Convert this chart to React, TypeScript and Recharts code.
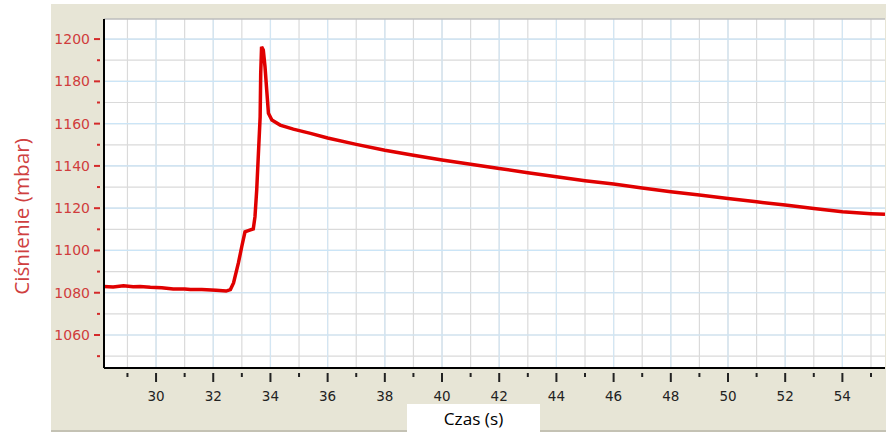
import { CartesianGrid, Line, LineChart, ReferenceLine, XAxis, YAxis } from 'recharts';

// czas (s) i ciśnienie (mbar)
const times = [
  28.18, 28.5, 28.86, 29.2, 29.44, 29.8, 30.2, 30.6, 31.0, 31.2, 31.6, 32.1, 32.45, 32.6, 32.71,
  32.88, 33.0, 33.11, 33.25, 33.4, 33.46, 33.52, 33.58, 33.64, 33.66, 33.69, 33.75, 33.81, 33.87,
  33.93, 34.05, 34.34, 34.8, 35.4, 36, 37, 38, 39, 40, 41, 42, 43, 44, 45, 46, 47, 48, 49, 50, 51,
  52, 53, 54, 55, 55.49,
];
const pressures = [
  1083, 1082.7, 1083.3, 1082.8, 1083, 1082.6, 1082.4, 1081.8, 1081.8, 1081.5, 1081.5, 1081.2,
  1080.8, 1081.5, 1084.6, 1094.1, 1102, 1108.8, 1109.5, 1110.2, 1116, 1128.6, 1146, 1163.2, 1183.8,
  1196.4, 1194.8, 1186.9, 1175.9, 1164.9, 1161.7, 1159.3, 1157.4, 1155.4, 1153.2, 1150.2, 1147.4,
  1145, 1142.8, 1140.8, 1138.8, 1136.8, 1134.9, 1133, 1131.4, 1129.6, 1127.8, 1126.2, 1124.6,
  1123, 1121.5, 1119.9, 1118.3, 1117.4, 1117.1,
];

const xTicks = [29, 30, 31, 32, 33, 34, 35, 36, 37, 38, 39, 40, 41, 42, 43, 44, 45, 46, 47, 48, 49, 50, 51, 52, 53, 54, 55];
const xMajor = [30, 32, 34, 36, 38, 40, 42, 44, 46, 48, 50, 52, 54];
const yTicks = [1050, 1060, 1070, 1080, 1090, 1100, 1110, 1120, 1130, 1140, 1150, 1160, 1170, 1180, 1190, 1200];
const yMajor = [1060, 1080, 1100, 1120, 1140, 1160, 1180, 1200];

const X_DOMAIN: [number, number] = [28.18, 55.49];
const Y_DOMAIN: [number, number] = [1044.4, 1209.5];

const data = times.map((t, i) => ({ t, p: pressures[i] }));

const tickRed = '#d03c3c';

function YTick(props: any) {
  const { x, y, payload } = props;
  const major = payload.value % 20 === 0;
  return (
    <g>
      <line x1={x - (major ? 10 : 7)} x2={x - 4} y1={y} y2={y} stroke="#d42a2a" strokeWidth={2} />
      {major && (
        <text
          x={x - 14}
          y={y}
          textAnchor="end"
          dominantBaseline="central"
          fill={tickRed}
          fontSize={14}
          fontFamily="DejaVu Sans, sans-serif"
        >
          {payload.value}
        </text>
      )}
    </g>
  );
}

function XTick(props: any) {
  const { x, y, payload } = props;
  const major = payload.value % 2 === 0;
  return (
    <g>
      <line x1={x} x2={x} y1={y + 5} y2={y + (major ? 14 : 9)} stroke="#222" strokeWidth={2} />
      {major && (
        <text
          x={x}
          y={y + 28}
          textAnchor="middle"
          dominantBaseline="central"
          fill="#222"
          fontSize={13.5}
          fontFamily="DejaVu Sans, sans-serif"
        >
          {payload.value}
        </text>
      )}
    </g>
  );
}

function YLabel(props: any) {
  const vb = props.viewBox;
  const cx = vb.x + 29;
  const cy = vb.y + vb.height / 2 + 23;
  return (
    <text
      x={cx}
      y={cy}
      transform={`rotate(-90 ${cx} ${cy})`}
      textAnchor="middle"
      fill="#cf4040"
      fontSize={20.7}
      fontFamily="Open Sans, sans-serif"
    >
      Ciśnienie (mbar)
    </text>
  );
}

export default function App() {
  return (
    <div style={{ position: 'absolute', left: 0, top: 0, width: 886, height: 434, background: '#fff' }}>
      <div
        style={{
          position: 'absolute',
          left: 51,
          top: 4,
          width: 835,
          height: 426,
          background: '#e7e5d6',
          borderBottom: '2px solid #c4c2b4',
        }}
      />
      <div style={{ position: 'absolute', left: 0, top: 0 }}>
        <LineChart width={886} height={434} data={data} margin={{ top: 19, right: 1, bottom: 0, left: 0 }}>
          <CartesianGrid
            fill="#ffffff"
            stroke="#dadada"
            strokeWidth={1.2}
            horizontalValues={yTicks}
            verticalValues={xTicks}
          />
          <CartesianGrid stroke="#d3e6f3" strokeWidth={1.2} horizontal={false} verticalValues={xMajor} />
          <CartesianGrid stroke="#cbe5f7" strokeWidth={1.2} vertical={false} horizontalValues={yMajor} />
          <ReferenceLine y={Y_DOMAIN[1]} stroke="#bdbdbd" strokeWidth={1.5} />
          <XAxis
            dataKey="t"
            type="number"
            domain={X_DOMAIN}
            allowDataOverflow
            ticks={xTicks}
            interval={0}
            height={66}
            tickSize={0}
            tickMargin={0}
            tickLine={false}
            axisLine={{ stroke: '#000', strokeWidth: 2 }}
            tick={<XTick />}
          />
          <YAxis
            type="number"
            domain={Y_DOMAIN}
            allowDataOverflow
            ticks={yTicks}
            interval={0}
            width={104}
            tickSize={0}
            tickMargin={0}
            tickLine={false}
            axisLine={{ stroke: '#000', strokeWidth: 2 }}
            tick={<YTick />}
            label={<YLabel />}
          />
          <Line
            type="linear"
            dataKey="p"
            stroke="#e00000"
            strokeWidth={3.5}
            dot={false}
            isAnimationActive={false}
          />
        </LineChart>
      </div>
      <div
        style={{
          position: 'absolute',
          left: 407,
          top: 404,
          width: 133,
          height: 30,
          background: '#fff',
          fontFamily: 'Open Sans, sans-serif',
          fontSize: 17.2,
          color: '#000',
          textAlign: 'center',
          lineHeight: '30px',
        }}
      >
        Czas (s)
      </div>
    </div>
  );
}
